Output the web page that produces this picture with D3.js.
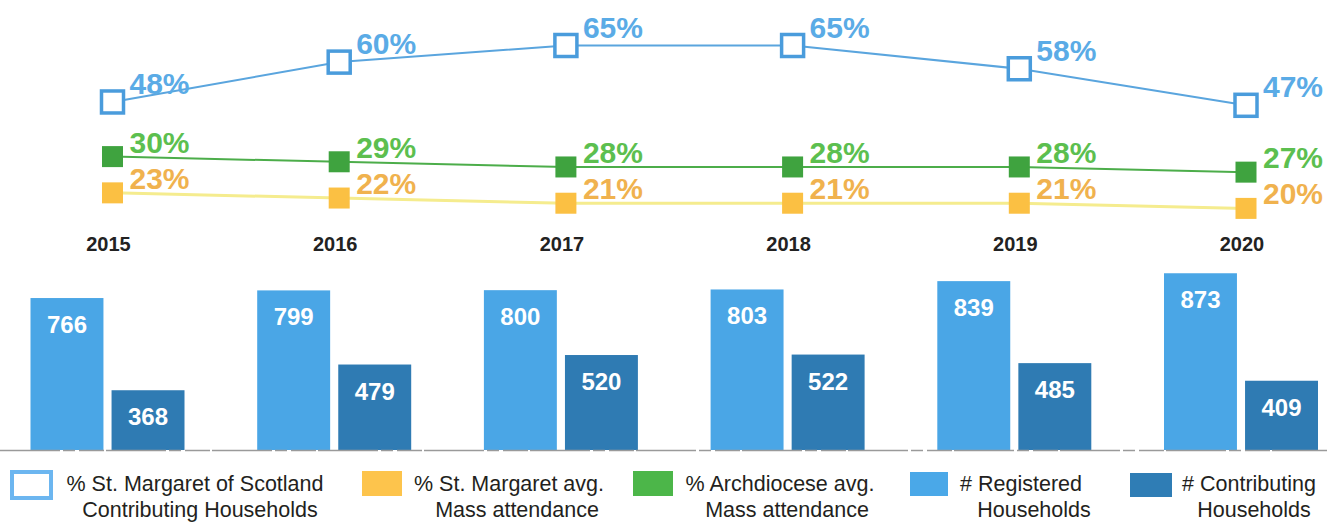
<!DOCTYPE html>
<html>
<head>
<meta charset="utf-8">
<script src="https://cdn.jsdelivr.net/npm/d3@7"></script>
<style>
  body { margin: 0; background: #fff; }
  svg { display: block; }
</style>
</head>
<body>
<svg id="chart"></svg>
<script>
const years = ["2015", "2016", "2017", "2018", "2019", "2020"];
const pctContributing = [48, 60, 65, 65, 58, 47];
const pctArchdioceseMass = [30, 29, 28, 28, 28, 27];
const pctStMargaretMass = [23, 22, 21, 21, 21, 20];
const registered = [766, 799, 800, 803, 839, 873];
const contributing = [368, 479, 520, 522, 485, 409];
const legendLabels = [
  ["% St. Margaret of Scotland", "Contributing Households"],
  ["% St. Margaret avg.", "Mass attendance"],
  ["% Archdiocese avg.", "Mass attendance"],
  ["# Registered", "Households"],
  ["# Contributing", "Households"]
];

const width = 1327,
  height = 523;

const svg = d3.select("#chart").attr("width", width).attr("height", height);

// x position for each year
const x = d3.scalePoint().domain(years).range([112.5, 1246]);

// the infographic squeezes the lower lines, so the scale is piecewise
const y = d3
  .scaleLinear()
  .domain([20, 30, 47, 65])
  .range([208.4, 156.6, 105.3, 45.5]);

// bars do not start from zero in the picture
const yBar = d3.scaleLinear().domain([110, 900]).range([450, 267]);

const xSub = d3
  .scaleBand()
  .domain(["registered", "contributing"])
  .range([-82, 72])
  .paddingInner(0.1);

const font = "'Liberation Sans', Arial, sans-serif";

// ---- bars ----
const barSeries = [
  { key: "registered", values: registered, color: "#4aa6e6" },
  { key: "contributing", values: contributing, color: "#2f7bb3" }
];

barSeries.forEach((s) => {
  const g = svg.append("g");
  g.selectAll("rect")
    .data(years)
    .join("rect")
    .attr("x", (d) => x(d) + xSub(s.key))
    .attr("y", (d, i) => yBar(s.values[i]))
    .attr("width", xSub.bandwidth())
    .attr("height", (d, i) => yBar.range()[0] - yBar(s.values[i]))
    .attr("fill", s.color);
  g.selectAll("text")
    .data(years)
    .join("text")
    .attr("x", (d) => x(d) + xSub(s.key) + xSub.bandwidth() / 2)
    .attr("y", (d, i) => yBar(s.values[i]) + 35)
    .attr("text-anchor", "middle")
    .attr("fill", "#fff")
    .style("font-family", font)
    .style("font-weight", "bold")
    .style("font-size", "24px")
    .text((d, i) => s.values[i]);
});

// baseline under the bars
svg
  .append("line")
  .attr("x1", 0)
  .attr("x2", width)
  .attr("y1", 450.5)
  .attr("y2", 450.5)
  .attr("stroke", "#9a9a9a")
  .attr("stroke-width", 1.4)
  .attr("stroke-dasharray", "60 3 12 4 25 2");

// ---- lines ----
const lineSeries = [
  { values: pctStMargaretMass, line: "#f5ec8e", lw: 3, marker: "#fbc043", text: "#f0b24e", hollow: false },
  { values: pctArchdioceseMass, line: "#4cad4a", lw: 2, marker: "#3fa33f", text: "#5cbf4f", hollow: false },
  { values: pctContributing, line: "#5aa5de", lw: 2, marker: "#4a9cdc", text: "#5aabe6", hollow: true }
];

const line = d3
  .line()
  .x((d) => x(d.year))
  .y((d) => y(d.value));

lineSeries.forEach((s) => {
  const pts = years.map((yr, i) => ({ year: yr, value: s.values[i] }));
  svg
    .append("path")
    .datum(pts)
    .attr("fill", "none")
    .attr("stroke", s.line)
    .attr("stroke-width", s.lw)
    .attr("d", line);

  const size = s.hollow ? 22 : 21;
  svg
    .append("g")
    .selectAll("rect")
    .data(pts)
    .join("rect")
    .attr("x", (d) => x(d.year) - size / 2)
    .attr("y", (d) => y(d.value) - size / 2)
    .attr("width", size)
    .attr("height", size)
    .attr("fill", s.hollow ? "#fff" : s.marker)
    .attr("stroke", s.hollow ? s.marker : "none")
    .attr("stroke-width", s.hollow ? 3.5 : 0);

  svg
    .append("g")
    .selectAll("text")
    .data(pts)
    .join("text")
    .attr("x", (d) => x(d.year) + 17)
    .attr("y", (d) => y(d.value) - (s.hollow ? 8 : 4))
    .attr("fill", s.text)
    .style("font-family", font)
    .style("font-weight", "bold")
    .style("font-size", "30px")
    .text((d) => d.value + "%");
});

// year labels
svg
  .append("g")
  .selectAll("text")
  .data(years)
  .join("text")
  .attr("x", (d) => x(d) - 4)
  .attr("y", 251)
  .attr("text-anchor", "middle")
  .attr("fill", "#222")
  .style("font-family", font)
  .style("font-weight", "bold")
  .style("font-size", "20px")
  .text((d) => d);

// ---- legend ----
const legendLayout = [
  { sx: 12, sy: 472, sw: 39, sh: 26, c1: 195, c2: 200 },
  { sx: 362, sy: 471, sw: 40, sh: 25, c1: 509, c2: 517 },
  { sx: 633, sy: 471, sw: 40, sh: 25, c1: 780, c2: 787 },
  { sx: 910, sy: 472, sw: 38, sh: 24, c1: 1021, c2: 1034 },
  { sx: 1130, sy: 473, sw: 42, sh: 24, c1: 1249, c2: 1254 }
];
const legendFill = ["#fff", "#fdc44c", "#4cb649", "#4aa8e8", "#2f7db5"];

const legend = svg.append("g");
legendLabels.forEach((lab, i) => {
  const L = legendLayout[i];
  legend
    .append("rect")
    .attr("x", L.sx)
    .attr("y", L.sy)
    .attr("width", L.sw)
    .attr("height", L.sh)
    .attr("fill", legendFill[i])
    .attr("stroke", i === 0 ? "#6cb6f0" : "none")
    .attr("stroke-width", i === 0 ? 4 : 0);
  legend
    .append("text")
    .attr("x", L.c1)
    .attr("y", 491)
    .attr("text-anchor", "middle")
    .attr("fill", "#231f20")
    .style("font-family", font)
    .style("font-size", "21.5px")
    .text(lab[0]);
  legend
    .append("text")
    .attr("x", L.c2)
    .attr("y", 517)
    .attr("text-anchor", "middle")
    .attr("fill", "#231f20")
    .style("font-family", font)
    .style("font-size", "21.5px")
    .text(lab[1]);
});
</script>
</body>
</html>
